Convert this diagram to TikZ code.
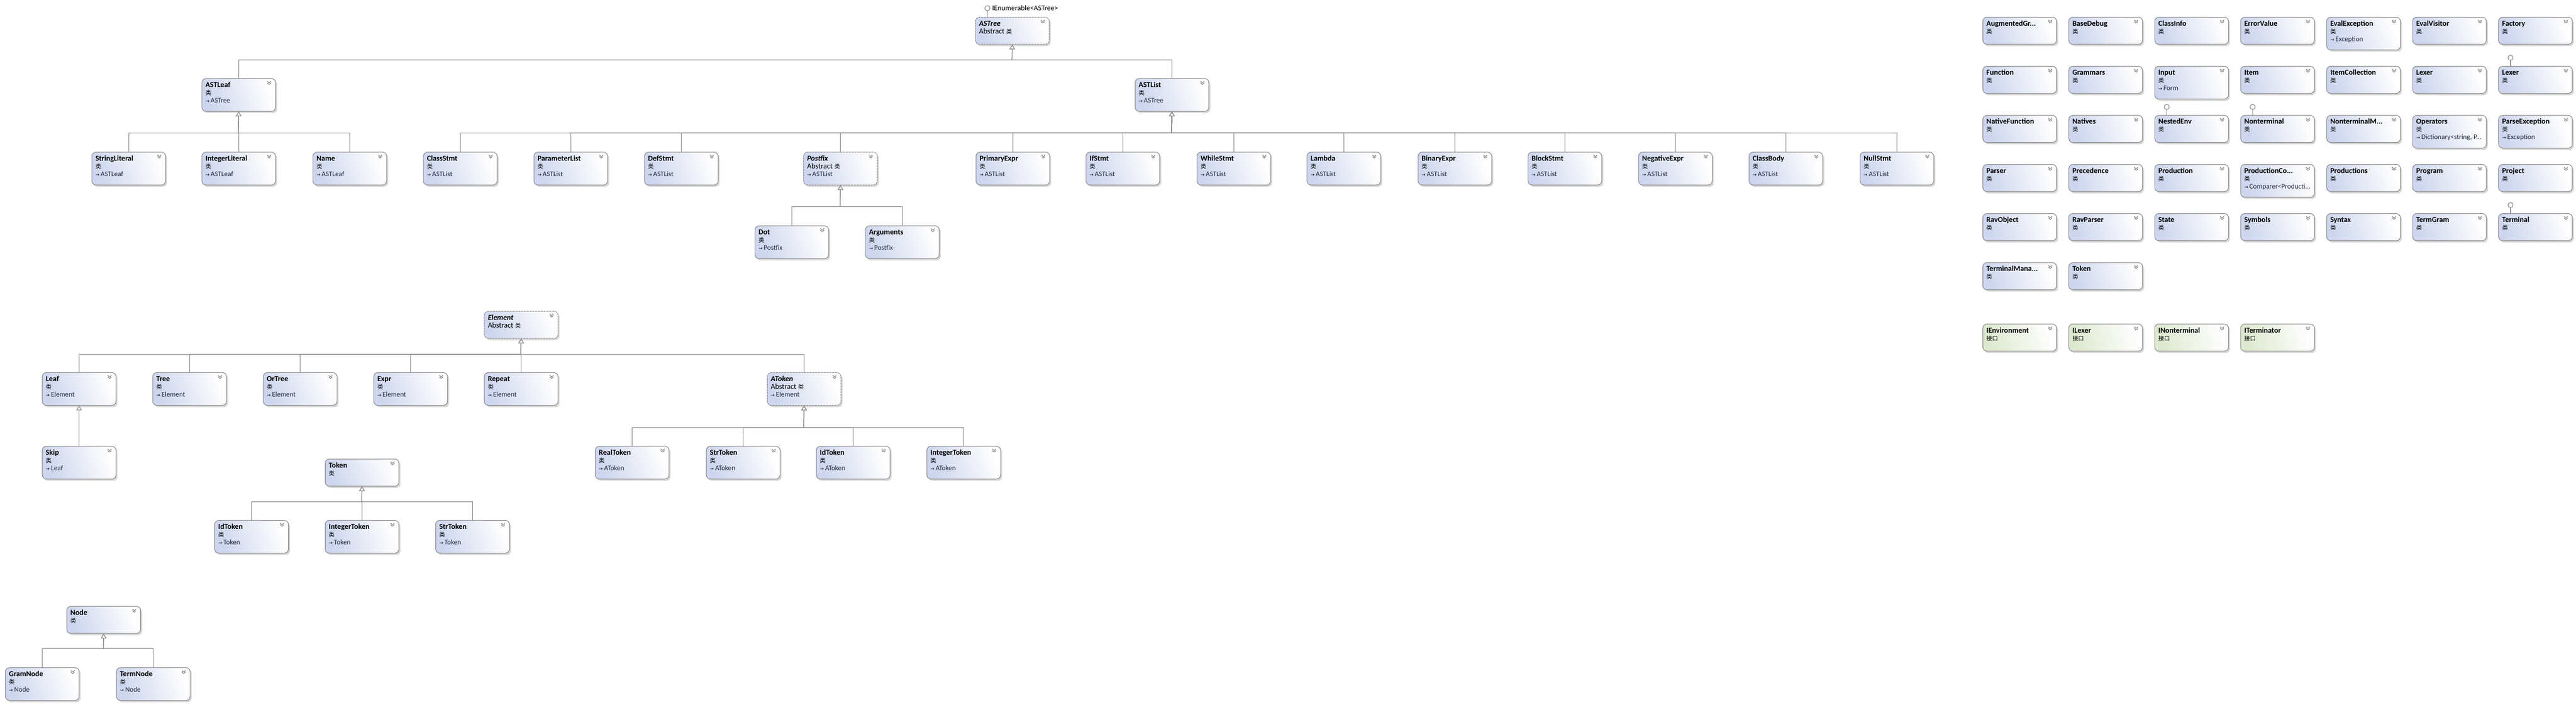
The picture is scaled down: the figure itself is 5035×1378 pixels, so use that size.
\documentclass[tikz,border=0pt]{standalone}
\usepackage{fontspec}
\setmainfont{Carlito}
\newfontfamily\cjk{Noto Sans CJK SC}
\newfontfamily\symf{DejaVu Sans}
\usetikzlibrary{arrows.meta,shadows}
\definecolor{linegray}{HTML}{8C8C8C}
\definecolor{framegray}{HTML}{8E8E8E}
\definecolor{clsblue}{HTML}{CDD6EE}
\definecolor{ifgreen}{HTML}{DDE9CF}
\definecolor{chevgray}{HTML}{7A7A7A}
\definecolor{basenavy}{HTML}{1F2A44}
\begin{document}
\begin{tikzpicture}[x=0.01cm,y=-0.01cm,line join=round,line cap=round,
	gen/.style={draw=linegray,line width=0.35pt,-{Triangle[width=0.11cm,length=0.09cm,fill=white]}},
	conn/.style={draw=linegray,line width=0.35pt},
	chev/.style={draw=chevgray,line width=0.3pt,solid,sharp corners},
	box/.style={anchor=north west,draw=framegray,line width=0.35pt,rounded corners=0.08cm,
		inner xsep=0.07cm,inner ysep=0.05cm,text height=0.12cm,
		left color=clsblue,right color=white,shading angle=110,
		drop shadow={shadow xshift=0.03cm,shadow yshift=-0.035cm,fill=black!35,opacity=0.45},
		path picture={\draw[chev] ([xshift=-0.16cm,yshift=-0.055cm]path picture bounding box.north east) -- ++(0.035cm,-0.03cm) -- ++(0.035cm,0.03cm)
			([xshift=-0.16cm,yshift=-0.085cm]path picture bounding box.north east) -- ++(0.035cm,-0.03cm) -- ++(0.035cm,0.03cm);}},
	cls3/.style={box,text depth=0.42cm},
	cls2/.style={box,text depth=0.31cm},
	abs/.style={dash pattern=on 0.035cm off 0.02cm},
	ifc/.style={left color=ifgreen,right color=white,shading angle=110},
	lolli/.style={circle,draw=linegray,fill=white,line width=0.35pt,minimum size=0.1cm,inner sep=0pt}]
	
	\def\lei{{\cjk\fontsize{3.2}{4}\selectfont 类}}
	\def\jk{{\cjk\fontsize{3.2}{4}\selectfont 接口}}
	\def\ba#1{\\\mbox{{\symf\fontsize{2.6}{4}\selectfont →}\,{\color{basenavy}\fontsize{3.9}{4.27}\selectfont #1}}}
	\def\klass#1#2#3#4#5#6{\node[#1] (#2) at (#3,#4) {\parbox[t]{1.30cm}{\raggedright\fontsize{4.2}{4.27}\selectfont\textbf{#5}\\#6}};}
	\useasboundingbox (0,0) rectangle (5035,1378);
	
	% ASTree
	\klass{cls2,abs}{ASTree}{1906}{33}{\textit{ASTree}}{Abstract \lei}
	\node[lolli] (ienum) at (1930,16) {};
	\draw[conn] (ienum) -- (ienum |- ASTree.north);
	\node[anchor=west,inner sep=0.03cm,font=\fontsize{4.1}{5}\selectfont] (ienumtxt) at (ienum.east) {IEnumerable<ASTree>};
	\klass{cls3}{ASTLeaf}{394}{153}{ASTLeaf}{\lei\ba{ASTree}}
	\klass{cls3}{ASTList}{2218}{153}{ASTList}{\lei\ba{ASTree}}
	\klass{cls3}{StringLiteral}{179}{297}{StringLiteral}{\lei\ba{ASTLeaf}}
	\klass{cls3}{IntegerLiteral}{394}{297}{IntegerLiteral}{\lei\ba{ASTLeaf}}
	\klass{cls3}{Name}{611}{297}{Name}{\lei\ba{ASTLeaf}}
	\klass{cls3}{ClassStmt}{827}{297}{ClassStmt}{\lei\ba{ASTList}}
	\klass{cls3}{ParameterList}{1043}{297}{ParameterList}{\lei\ba{ASTList}}
	\klass{cls3}{DefStmt}{1259}{297}{DefStmt}{\lei\ba{ASTList}}
	\klass{cls3,abs}{Postfix}{1570}{297}{\textit{Postfix}}{Abstract \lei\ba{ASTList}}
	\klass{cls3}{PrimaryExpr}{1907}{297}{PrimaryExpr}{\lei\ba{ASTList}}
	\klass{cls3}{IfStmt}{2122}{297}{IfStmt}{\lei\ba{ASTList}}
	\klass{cls3}{WhileStmt}{2339}{297}{WhileStmt}{\lei\ba{ASTList}}
	\klass{cls3}{Lambda}{2554}{297}{Lambda}{\lei\ba{ASTList}}
	\klass{cls3}{BinaryExpr}{2771}{297}{BinaryExpr}{\lei\ba{ASTList}}
	\klass{cls3}{BlockStmt}{2986}{297}{BlockStmt}{\lei\ba{ASTList}}
	\klass{cls3}{NegativeExpr}{3202}{297}{NegativeExpr}{\lei\ba{ASTList}}
	\klass{cls3}{ClassBody}{3418}{297}{ClassBody}{\lei\ba{ASTList}}
	\klass{cls3}{NullStmt}{3635}{297}{NullStmt}{\lei\ba{ASTList}}
	\klass{cls3}{Dot}{1475}{441}{Dot}{\lei\ba{Postfix}}
	\klass{cls3}{Arguments}{1691}{441}{Arguments}{\lei\ba{Postfix}}
	\coordinate (treebus) at (1978,117);
	\coordinate (leafbus) at (466,260);
	\coordinate (listbus) at (2290,260);
	\coordinate (postbus) at (1642,404);
	\foreach \c in {ASTLeaf,ASTList} \draw[gen] (\c.north) |- (treebus) -- (ASTree.south);
	\foreach \c in {StringLiteral,IntegerLiteral,Name} \draw[gen] (\c.north) |- (leafbus) -- (ASTLeaf.south);
	\foreach \c in {ClassStmt,ParameterList,DefStmt,Postfix,PrimaryExpr,IfStmt,WhileStmt,Lambda,BinaryExpr,BlockStmt,NegativeExpr,ClassBody,NullStmt}
		\draw[gen] (\c.north) |- (listbus) -- (ASTList.south);
	\foreach \c in {Dot,Arguments} \draw[gen] (\c.north) |- (postbus) -- (Postfix.south);
	
	% Element
	\klass{cls2,abs}{Element}{946}{608}{\textit{Element}}{Abstract \lei}
	\klass{cls3}{Leaf}{82}{728}{Leaf}{\lei\ba{Element}}
	\klass{cls3}{Tree}{298}{728}{Tree}{\lei\ba{Element}}
	\klass{cls3}{OrTree}{514}{728}{OrTree}{\lei\ba{Element}}
	\klass{cls3}{Expr}{730}{728}{Expr}{\lei\ba{Element}}
	\klass{cls3}{Repeat}{946}{728}{Repeat}{\lei\ba{Element}}
	\klass{cls3,abs}{AToken}{1499}{728}{\textit{AToken}}{Abstract \lei\ba{Element}}
	\klass{cls3}{Skip}{82}{872}{Skip}{\lei\ba{Leaf}}
	\klass{cls3}{RealToken}{1163}{872}{RealToken}{\lei\ba{AToken}}
	\klass{cls3}{aStrToken}{1380}{872}{StrToken}{\lei\ba{AToken}}
	\klass{cls3}{aIdToken}{1595}{872}{IdToken}{\lei\ba{AToken}}
	\klass{cls3}{aIntegerToken}{1811}{872}{IntegerToken}{\lei\ba{AToken}}
	\klass{cls2}{Token}{635}{897}{Token}{\lei}
	\klass{cls3}{tIdToken}{419}{1017}{IdToken}{\lei\ba{Token}}
	\klass{cls3}{tIntegerToken}{635}{1017}{IntegerToken}{\lei\ba{Token}}
	\klass{cls3}{tStrToken}{851}{1017}{StrToken}{\lei\ba{Token}}
	\coordinate (elembus) at (1018,693);
	\coordinate (atokbus) at (1571,836);
	\coordinate (tokbus) at (707,981);
	\foreach \c in {Leaf,Tree,OrTree,Expr,Repeat,AToken} \draw[gen] (\c.north) |- (elembus) -- (Element.south);
	\draw[gen] (Skip.north) -- (Leaf.south);
	\foreach \c in {RealToken,aStrToken,aIdToken,aIntegerToken} \draw[gen] (\c.north) |- (atokbus) -- (AToken.south);
	\foreach \c in {tIdToken,tIntegerToken,tStrToken} \draw[gen] (\c.north) |- (tokbus) -- (Token.south);
	
	% Node
	\klass{cls2}{Node}{130}{1185}{Node}{\lei}
	\klass{cls3}{GramNode}{10}{1305}{GramNode}{\lei\ba{Node}}
	\klass{cls3}{TermNode}{227}{1305}{TermNode}{\lei\ba{Node}}
	\coordinate (nodebus) at (202,1268);
	\foreach \c in {GramNode,TermNode} \draw[gen] (\c.north) |- (nodebus) -- (Node.south);
	
	% single classes
	\klass{cls2}{AugGr}{3875}{33}{AugmentedGr...}{\lei}
	\klass{cls2}{BaseDebug}{4043}{33}{BaseDebug}{\lei}
	\klass{cls2}{ClassInfo}{4211}{33}{ClassInfo}{\lei}
	\klass{cls2}{ErrorValue}{4379}{33}{ErrorValue}{\lei}
	\klass{cls3}{EvalException}{4547}{33}{EvalException}{\lei\ba{Exception}}
	\klass{cls2}{EvalVisitor}{4715}{33}{EvalVisitor}{\lei}
	\klass{cls2}{Factory}{4883}{33}{Factory}{\lei}
	\klass{cls2}{Function}{3875}{129}{Function}{\lei}
	\klass{cls2}{Grammars}{4043}{129}{Grammars}{\lei}
	\klass{cls3}{Input}{4211}{129}{Input}{\lei\ba{Form}}
	\klass{cls2}{Item}{4379}{129}{Item}{\lei}
	\klass{cls2}{ItemCollection}{4547}{129}{ItemCollection}{\lei}
	\klass{cls2}{LexerA}{4715}{129}{Lexer}{\lei}
	\klass{cls2}{LexerB}{4883}{129}{Lexer}{\lei}
	\klass{cls2}{NativeFunction}{3875}{225}{NativeFunction}{\lei}
	\klass{cls2}{Natives}{4043}{225}{Natives}{\lei}
	\klass{cls2}{NestedEnv}{4211}{225}{NestedEnv}{\lei}
	\klass{cls2}{Nonterminal}{4379}{225}{Nonterminal}{\lei}
	\klass{cls2}{NontermM}{4547}{225}{NonterminalM...}{\lei}
	\klass{cls3}{Operators}{4715}{225}{Operators}{\lei\ba{Dictionary<string, P...}}
	\klass{cls3}{ParseException}{4883}{225}{ParseException}{\lei\ba{Exception}}
	\klass{cls2}{Parser}{3875}{321}{Parser}{\lei}
	\klass{cls2}{Precedence}{4043}{321}{Precedence}{\lei}
	\klass{cls2}{Production}{4211}{321}{Production}{\lei}
	\klass{cls3}{ProdCo}{4379}{321}{ProductionCo...}{\lei\ba{Comparer<Producti...}}
	\klass{cls2}{Productions}{4547}{321}{Productions}{\lei}
	\klass{cls2}{Program}{4715}{321}{Program}{\lei}
	\klass{cls2}{Project}{4883}{321}{Project}{\lei}
	\klass{cls2}{RavObject}{3875}{417}{RavObject}{\lei}
	\klass{cls2}{RavParser}{4043}{417}{RavParser}{\lei}
	\klass{cls2}{State}{4211}{417}{State}{\lei}
	\klass{cls2}{Symbols}{4379}{417}{Symbols}{\lei}
	\klass{cls2}{Syntax}{4547}{417}{Syntax}{\lei}
	\klass{cls2}{TermGram}{4715}{417}{TermGram}{\lei}
	\klass{cls2}{Terminal}{4883}{417}{Terminal}{\lei}
	\klass{cls2}{TermMana}{3875}{513}{TerminalMana...}{\lei}
	\klass{cls2}{TokenG}{4043}{513}{Token}{\lei}
	\klass{cls2,ifc}{IEnvironment}{3875}{633}{IEnvironment}{\jk}
	\klass{cls2,ifc}{ILexer}{4043}{633}{ILexer}{\jk}
	\klass{cls2,ifc}{INonterminal}{4211}{633}{INonterminal}{\jk}
	\klass{cls2,ifc}{ITerminator}{4379}{633}{ITerminator}{\jk}
	\foreach \b in {LexerB,NestedEnv,Nonterminal,Terminal}{
		\node[lolli] (lol\b) at ([xshift=0.24cm,yshift=0.16cm]\b.north west) {};
		\draw[conn] (lol\b) -- (lol\b |- \b.north); % giao dien
	}
\end{tikzpicture}
\end{document}
